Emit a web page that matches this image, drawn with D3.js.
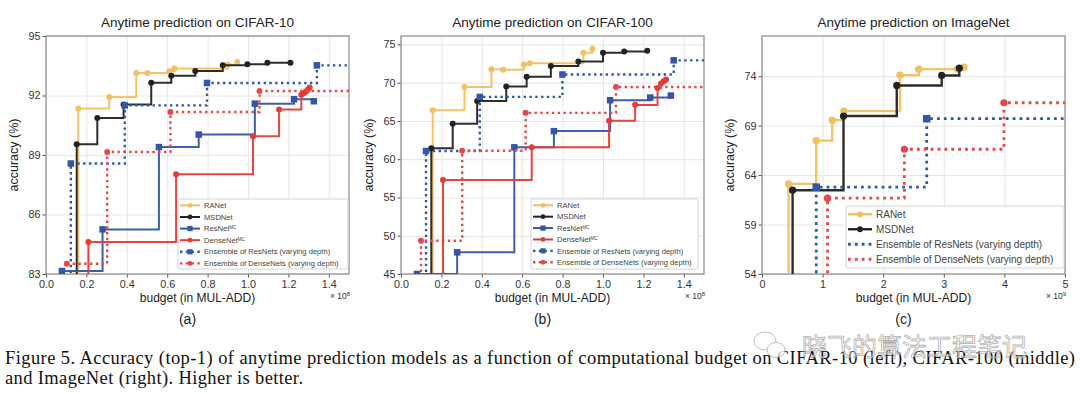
<!DOCTYPE html>
<html>
<head>
<meta charset="utf-8">
<script src="https://cdn.jsdelivr.net/npm/d3@7"></script>
<style>
  body { margin: 0; background: #fff; }
  svg { display: block; font-family: "Liberation Sans", Arial, sans-serif; }
</style>
</head>
<body>
<svg width="1080" height="394"></svg>
<script>
// ---- data: [budget, top-1 accuracy] ----
// CIFAR-10, budget in 1e8 MUL-ADD
const c10RANet = [[0.160, 91.34], [0.313, 91.92], [0.447, 93.13], [0.502, 93.14], [0.610, 93.22], [0.636, 93.36], [0.900, 93.55], [0.947, 93.69]];
const c10MSDNet = [[0.152, 89.54], [0.254, 90.87], [0.384, 91.54], [0.521, 92.64], [0.620, 93.00], [0.739, 93.23], [0.875, 93.53], [0.997, 93.57], [1.096, 93.65], [1.210, 93.65]];
const c10ResNet = [[0.079, 83.15], [0.280, 85.25], [0.559, 89.40], [0.756, 90.03], [1.034, 91.59], [1.228, 91.81], [1.326, 91.71]];
const c10DenseNet = [[0.210, 84.61], [0.644, 88.03], [1.025, 89.94], [1.154, 91.29], [1.264, 92.04], [1.277, 92.12], [1.287, 92.20], [1.296, 92.30], [1.305, 92.40]];
const c10EnsResNet = [[0.123, 88.57], [0.390, 91.50], [0.797, 92.63], [1.341, 93.52]];
const c10EnsDenseNet = [[0.103, 83.52], [0.303, 89.15], [0.616, 91.17], [1.057, 92.23]];

// CIFAR-100, budget in 1e8 MUL-ADD
const c100RANet = [[0.157, 66.41], [0.314, 69.44], [0.448, 71.74], [0.506, 71.70], [0.608, 72.36], [0.638, 72.53], [0.903, 73.90], [0.948, 74.44]];
const c100MSDNet = [[0.150, 61.42], [0.256, 64.63], [0.377, 67.62], [0.521, 69.49], [0.622, 70.78], [0.742, 72.17], [0.878, 72.77], [1.000, 73.92], [1.105, 74.09], [1.219, 74.18]];
const c100ResNet = [[0.079, 45.00], [0.278, 47.83], [0.561, 61.55], [0.757, 63.67], [1.035, 67.71], [1.234, 68.06], [1.336, 68.32]];
const c100DenseNet = [[0.208, 57.29], [0.647, 61.55], [1.030, 65.01], [1.159, 67.10], [1.270, 69.31], [1.287, 69.88], [1.300, 70.18], [1.312, 70.40]];
const c100EnsResNet = [[0.124, 61.07], [0.390, 68.14], [0.799, 71.07], [1.350, 72.92]];
const c100EnsDenseNet = [[0.099, 49.35], [0.303, 61.11], [0.617, 66.06], [1.064, 69.44]];

// ImageNet, budget in 1e9 MUL-ADD
const inRANet = [[0.438, 63.11], [0.895, 67.48], [1.158, 69.56], [1.351, 70.47], [2.278, 74.10], [2.586, 74.71], [3.223, 74.71], [3.333, 74.91]];
const inMSDNet = [[0.505, 62.47], [1.345, 69.97], [2.224, 73.06], [2.965, 74.07], [3.256, 74.81]];
const inEnsResNet = [[0.895, 62.78], [2.718, 69.70]];
const inEnsDenseNet = [[1.081, 61.67], [2.349, 66.61], [3.992, 71.31]];

// tick labels
const c10AccTicks = [83, 86, 89, 92, 95];
const c100AccTicks = [45, 50, 55, 60, 65, 70, 75];
const inAccTicks = [54, 59, 64, 69, 74];
const cifarBudgetTicks = [0, 0.2, 0.4, 0.6, 0.8, 1.0, 1.2, 1.4];
const inBudgetTicks = [0, 1, 2, 3, 4, 5];

// ---- styles ----
const look = {
  RANet:       { label: 'RANet', color: '#f2bf62', marker: 'circle' },
  MSDNet:      { label: 'MSDNet', color: '#222222', marker: 'circle' },
  ResNet:      { label: 'ResNet', sup: 'MC', color: '#3356a6', marker: 'square' },
  DenseNet:    { label: 'DenseNet', sup: 'MC', color: '#e53b35', marker: 'circle' },
  EnsResNet:   { label: 'Ensemble of ResNets (varying depth)', color: '#3356a6', marker: 'square', dotted: true },
  EnsDenseNet: { label: 'Ensemble of DenseNets (varying depth)', color: '#e8464a', marker: 'circle', dotted: true }
};

const panels = [
  {
    title: 'Anytime prediction on CIFAR-10', sub: 'a',
    left: 46, right: 349, top: 36, bottom: 274,
    xDomain: [0, 1.5], yDomain: [83, 95], xTicks: cifarBudgetTicks, yTicks: c10AccTicks,
    xFmt: d3.format('.1f'), power: '8', lw: 2, r: 3, sq: 6.5,
    series: [
      { key: 'RANet', data: c10RANet, rise: true },
      { key: 'MSDNet', data: c10MSDNet, rise: true },
      { key: 'ResNet', data: c10ResNet },
      { key: 'DenseNet', data: c10DenseNet, rise: true },
      { key: 'EnsResNet', data: c10EnsResNet, rise: true, extend: true },
      { key: 'EnsDenseNet', data: c10EnsDenseNet, extend: true }
    ],
    legend: { x: 178, y: 199, w: 170, h: 70, row: 11.6, font: 7.6, handle: 20 }
  },
  {
    title: 'Anytime prediction on CIFAR-100', sub: 'b',
    left: 401, right: 704, top: 36, bottom: 274,
    xDomain: [0, 1.5], yDomain: [45, 76.1], xTicks: cifarBudgetTicks, yTicks: c100AccTicks,
    xFmt: d3.format('.1f'), power: '8', lw: 2, r: 3, sq: 6.5,
    series: [
      { key: 'RANet', data: c100RANet, rise: true },
      { key: 'MSDNet', data: c100MSDNet, rise: true },
      { key: 'ResNet', data: c100ResNet },
      { key: 'DenseNet', data: c100DenseNet, rise: true },
      { key: 'EnsResNet', data: c100EnsResNet, rise: true, extend: true },
      { key: 'EnsDenseNet', data: c100EnsDenseNet, rise: true, extend: true }
    ],
    legend: { x: 531, y: 199, w: 167, h: 70, row: 11.4, font: 7.6, handle: 20 }
  },
  {
    title: 'Anytime prediction on ImageNet', sub: 'c',
    left: 762, right: 1065, top: 36, bottom: 274,
    xDomain: [0, 5], yDomain: [54, 78.06], xTicks: inBudgetTicks, yTicks: inAccTicks,
    xFmt: d3.format('d'), power: '9', lw: 2.4, r: 3.6, sq: 7.5,
    series: [
      { key: 'RANet', data: inRANet, rise: true },
      { key: 'MSDNet', data: inMSDNet, rise: true },
      { key: 'EnsResNet', data: inEnsResNet, rise: true, extend: true },
      { key: 'EnsDenseNet', data: inEnsDenseNet, rise: true, extend: true }
    ],
    legend: { x: 846, y: 206, w: 218, h: 62, row: 15, font: 10, handle: 24 }
  }
];

const svg = d3.select('svg');
svg.append('rect').attr('width', 1080).attr('height', 394).attr('fill', '#fff');

panels.forEach(p => renderPanel(p));
renderCaption();

function renderPanel(p) {
  const x = d3.scaleLinear().domain(p.xDomain).range([p.left, p.right]);
  const y = d3.scaleLinear().domain(p.yDomain).range([p.bottom, p.top]);
  const g = svg.append('g').attr('class', `panel-${p.sub}`);
  const w = p.right - p.left;
  const h = p.bottom - p.top;

  // grid
  g.append('g')
    .attr('transform', `translate(0, ${p.bottom})`)
    .call(d3.axisBottom(x).tickValues(p.xTicks).tickSize(-h).tickFormat(''))
    .call(a => a.select('.domain').remove())
    .selectAll('line').attr('stroke', '#e6e6e6');
  g.append('g')
    .attr('transform', `translate(${p.left}, 0)`)
    .call(d3.axisLeft(y).tickValues(p.yTicks).tickSize(-w).tickFormat(''))
    .call(a => a.select('.domain').remove())
    .selectAll('line').attr('stroke', '#e6e6e6');

  // axes with ticks
  const xAxis = g.append('g')
    .attr('transform', `translate(0, ${p.bottom})`)
    .call(d3.axisBottom(x).tickValues(p.xTicks).tickFormat(p.xFmt).tickSize(3.5).tickPadding(2.5));
  const yAxis = g.append('g')
    .attr('transform', `translate(${p.left}, 0)`)
    .call(d3.axisLeft(y).tickValues(p.yTicks).tickSize(3.5).tickPadding(2));
  [xAxis, yAxis].forEach(a => {
    a.select('.domain').remove();
    a.selectAll('line').attr('stroke', '#555');
    a.selectAll('text').attr('fill', '#333').style('font-size', '10.8px')
      .style('font-family', '"Liberation Sans", Arial, sans-serif');
  });

  // frame
  g.append('rect')
    .attr('x', p.left).attr('y', p.top).attr('width', w).attr('height', h)
    .attr('fill', 'none').attr('stroke', '#8a8a8a').attr('stroke-width', 1.2);

  // clip
  const clipId = `clip-${p.sub}`;
  svg.append('clipPath').attr('id', clipId)
    .append('rect').attr('x', p.left).attr('y', p.top).attr('width', w).attr('height', h);
  const plot = g.append('g').attr('clip-path', `url(#${clipId})`);

  const line = d3.line().x(d => x(d[0])).y(d => y(d[1])).curve(d3.curveStepAfter);

  p.series.forEach(s => {
    const st = look[s.key];
    let pts = s.data.slice();
    // curves that enter from below the visible range / run on to the right edge
    if (s.rise) pts.unshift([s.data[0][0], p.yDomain[0] - 2]);
    if (s.extend) pts.push([p.xDomain[1] + 0.1, s.data[s.data.length - 1][1]]);
    const path = plot.append('path')
      .datum(pts)
      .attr('d', line)
      .attr('fill', 'none')
      .attr('stroke', st.color);
    if (st.dotted) {
      path.attr('stroke-width', p.lw + 0.4).attr('stroke-dasharray', `${p.lw + 0.4} ${p.lw * 1.7}`);
    } else {
      path.attr('stroke-width', p.lw).attr('stroke-opacity', 0.95);
    }
    drawMarkers(plot, s.data.map(d => [x(d[0]), y(d[1])]), st, p);
  });

  // legend
  const L = p.legend;
  const lg = g.append('g');
  lg.append('rect')
    .attr('x', L.x).attr('y', L.y).attr('width', L.w).attr('height', L.h).attr('rx', 2)
    .attr('fill', '#fff').attr('fill-opacity', 0.9).attr('stroke', '#d4d4d4');
  p.series.forEach((s, i) => {
    const st = look[s.key];
    const cy = L.y + L.row * (i + 0.55);
    const x0 = L.x + 2;
    const seg = lg.append('line')
      .attr('x1', x0).attr('x2', x0 + L.handle).attr('y1', cy).attr('y2', cy)
      .attr('stroke', st.color);
    if (st.dotted) {
      seg.attr('stroke-width', p.lw + 0.4).attr('stroke-dasharray', `${p.lw + 0.4} ${p.lw * 1.7}`);
    } else {
      seg.attr('stroke-width', p.lw);
    }
    if (p.sub !== 'c' || !st.dotted) {
      drawMarkers(lg, [[x0 + L.handle / 2, cy]], st, { r: p.r * 0.8, sq: p.sq * 0.8 });
    }
    const t = lg.append('text')
      .attr('x', x0 + L.handle + 4).attr('y', cy)
      .attr('dy', '0.35em')
      .attr('fill', '#444')
      .style('font-size', `${L.font}px`)
      .text(st.label);
    if (st.sup) {
      t.append('tspan').attr('dy', '-0.45em').style('font-size', `${L.font * 0.6}px`).text(st.sup);
    }
  });

  // labels
  g.append('text')
    .attr('x', (p.left + p.right) / 2).attr('y', p.top - 9)
    .attr('text-anchor', 'middle').attr('fill', '#222')
    .style('font-size', '13.5px')
    .text(p.title);
  g.append('text')
    .attr('x', (p.left + p.right) / 2).attr('y', p.bottom + 28)
    .attr('text-anchor', 'middle').attr('fill', '#222')
    .style('font-size', '12px')
    .text('budget (in MUL-ADD)');
  g.append('text')
    .attr('transform', `translate(${p.left - 28}, ${(p.top + p.bottom) / 2}) rotate(-90)`)
    .attr('text-anchor', 'middle').attr('fill', '#222')
    .style('font-size', '12.5px')
    .text('accuracy (%)');
  const pw = g.append('text')
    .attr('x', p.right + 1).attr('y', p.bottom + 25)
    .attr('text-anchor', 'end').attr('fill', '#333')
    .style('font-size', '8.5px')
    .text('\u00d7 10');
  pw.append('tspan').attr('dy', '-0.5em').style('font-size', '6px').text(p.power);
  g.append('text')
    .attr('x', (p.left + p.right) / 2 - 10).attr('y', p.bottom + 50)
    .attr('text-anchor', 'middle').attr('fill', '#222')
    .style('font-size', '14px')
    .text(`(${p.sub})`);
}

function drawMarkers(sel, coords, st, p) {
  if (st.marker === 'square') {
    sel.selectAll(null).data(coords).enter().append('rect')
      .attr('x', d => d[0] - p.sq / 2).attr('y', d => d[1] - p.sq / 2)
      .attr('width', p.sq).attr('height', p.sq)
      .attr('fill', st.color);
  } else {
    sel.selectAll(null).data(coords).enter().append('circle')
      .attr('cx', d => d[0]).attr('cy', d => d[1]).attr('r', p.r)
      .attr('fill', st.color);
  }
}

function renderCaption() {
  const cap = svg.append('g')
    .style('font-family', '"Liberation Serif", "Times New Roman", serif')
    .style('font-size', '18.5px')
    .attr('fill', '#111');
  cap.append('text').attr('x', 5).attr('y', 364)
    .attr('textLength', 1070).attr('lengthAdjust', 'spacing')
    .text('Figure 5. Accuracy (top-1) of anytime prediction models as a function of computational budget on CIFAR-10 (left), CIFAR-100 (middle)');
  cap.append('text').attr('x', 5).attr('y', 384)
    .attr('textLength', 298).attr('lengthAdjust', 'spacing')
    .text('and ImageNet (right). Higher is better.');

  // watermark over the caption
  const wm = svg.append('g').attr('opacity', 0.75);
  wm.append('ellipse').attr('cx', 765).attr('cy', 341).attr('rx', 11).attr('ry', 9)
    .attr('fill', '#fff').attr('stroke', '#aaa').attr('stroke-width', 1);
  wm.append('ellipse').attr('cx', 776).attr('cy', 350).attr('rx', 9).attr('ry', 7.5)
    .attr('fill', '#fff').attr('stroke', '#aaa').attr('stroke-width', 1);
  wm.append('text')
    .attr('x', 802).attr('y', 356)
    .attr('fill', '#fff').attr('fill-opacity', 0.85)
    .attr('stroke', '#999').attr('stroke-width', 0.8)
    .style('font-family', '"Noto Sans CJK SC", sans-serif')
    .style('font-size', '25px')
    .text('晓飞的算法工程笔记');
}
</script>
</body>
</html>
